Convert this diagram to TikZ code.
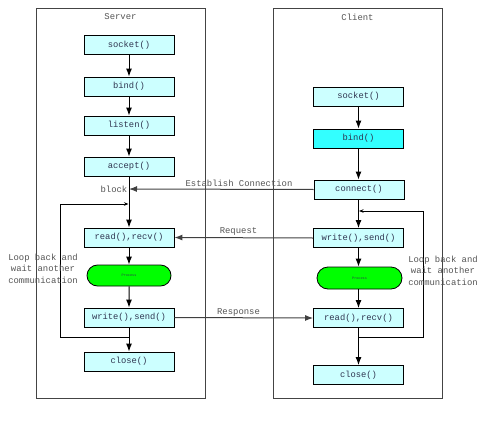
\documentclass[tikz,border=0pt]{standalone}
\usepackage{fontspec}
\setmainfont{Liberation Mono}
\usetikzlibrary{arrows.meta,shapes.misc}
\definecolor{boxfill}{HTML}{CCFFFF}
\definecolor{bindfill}{HTML}{33FFFF}
\definecolor{procfill}{HTML}{00FF00}
\definecolor{txtc}{HTML}{2F3550}
\definecolor{lblc}{HTML}{555555}
\definecolor{framec}{HTML}{444444}
\begin{document}
\begin{tikzpicture}[x=1pt,y=-1pt,
  fnbox/.style={draw=black,line width=0.9pt,fill=boxfill,minimum width=90pt,minimum height=19pt,inner sep=0pt,font=\fontsize{8.8}{10}\selectfont,text=txtc},
  procbox/.style={draw=black,line width=0.8pt,fill=procfill,rounded rectangle,minimum width=84pt,minimum height=21pt,inner sep=0pt,font=\fontsize{3.5}{4}\selectfont,text=txtc},
  frame/.style={draw=framec,line width=1pt},
  lbl/.style={font=\fontsize{8.9}{11.5}\selectfont,text=lblc,inner sep=0pt},
  flow/.style={draw=black,line width=1pt,-{Latex[length=8pt,width=6pt]}},
  conn/.style={draw=black!75,line width=1pt,-{Latex[length=8pt,width=6pt]}},
  loopl/.style={draw=black,line width=0.9pt,-{Stealth[length=4.5pt,width=3.5pt]}}]
\useasboundingbox (0,0) rectangle (492,420);
% frames
\draw[frame] (36,9) rectangle (205,398);
\draw[frame] (273,9) rectangle (442,398);
\node[lbl] (stitle) at (120.5,17) {Server};
\node[lbl] (ctitle) at (357.5,17) {Client};
% server
\node[fnbox] (ssocket) at (129,45) {socket()};
\node[fnbox] (sbind) at (129,86.5) {bind()};
\node[fnbox] (slisten) at (129,125.5) {listen()};
\node[fnbox] (saccept) at (129,166.5) {accept()};
\node[fnbox] (sread) at (129,237.5) {read(),recv()};
\node[procbox] (sproc) at (129,275.5) {Process};
\node[fnbox] (swrite) at (129,317.5) {write(),send()};
\node[fnbox] (sclose) at (129,361.5) {close()};
\coordinate (blk) at (129,189);
\node[lbl,anchor=east] (block) at (127.5,189) {block};
\draw[flow] (ssocket) -- (sbind);
\draw[flow] (sbind) -- (slisten);
\draw[flow] (slisten) -- (saccept);
\draw[flow] (saccept) -- (sread);
\draw[flow] (sread) -- (sproc);
\draw[flow] (sproc) -- (swrite);
\draw[flow] (swrite) -- (sclose);
\coordinate (sl1) at (129,337);
\coordinate (sl2) at (60,204);
\coordinate (sl3) at (128.5,204);
\draw[loopl] (sl1) -| (sl2) -- (sl3);
\node[lbl,align=center] (sloop) at (43,268.5) {Loop back and\\wait another\\communication};
% client
\node[fnbox] (csocket) at (358.5,96.5) {socket()};
\node[fnbox,fill=bindfill] (cbind) at (358.5,138.5) {bind()};
\node[fnbox] (cconnect) at (359,189.5) {connect()};
\node[fnbox] (cwrite) at (358.5,238) {write(),send()};
\node[procbox,minimum width=85pt,minimum height=22pt] (cproc) at (359.5,278) {Process};
\node[fnbox] (cread) at (358.5,318) {read(),recv()};
\node[fnbox] (cclose) at (358.5,375) {close()};
\draw[flow] (csocket) -- (cbind);
\draw[flow] (cbind) -- (cconnect.north -| cbind);
\draw[flow] (cconnect.south -| cwrite) -- (cwrite);
\draw[flow] (cwrite) -- (cproc.north -| cwrite);
\draw[flow] (cproc.south -| cread) -- (cread);
\draw[flow] (cread) -- (cclose);
\coordinate (cl1) at (358.5,337);
\coordinate (cl2) at (423,211);
\coordinate (cl3) at (359,211);
\draw[loopl] (cl1) -| (cl2) -- (cl3);
\node[lbl,align=center] (cloop) at (443,270.5) {Loop back and\\wait another\\communication};
% connections
\draw[conn] (cconnect.west) -- (blk);
\node[lbl] (estab) at (239,183) {Establish Connection};
\draw[conn] (cwrite.west) -- (sread.east);
\node[lbl] (req) at (238.5,231) {Request};
\draw[conn] (swrite.east) -- (cread.west);
\node[lbl] (resp) at (238.5,312.5) {Response};
\end{tikzpicture}
\end{document}
